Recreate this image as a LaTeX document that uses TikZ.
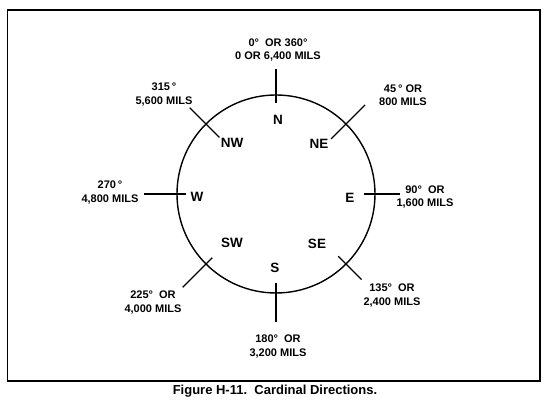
\documentclass[tikz,border=0pt]{standalone}
\usepackage{fontspec}
\setmainfont{Liberation Sans}
\usetikzlibrary{calc,positioning}

\begin{document}
\begin{tikzpicture}[
        x=1pt, y=1pt,
        bearing/.style={
            font=\bfseries\fontsize{11}{13.5}\selectfont,
            align=center,
            inner sep=0pt
        },
        point/.style={
            font=\bfseries\fontsize{13.5}{15}\selectfont,
            inner sep=0pt
        },
        tickline/.style={line width=1.2pt}
    ]
        \useasboundingbox (0,0) rectangle (550,403);
        \draw[line width=1.1pt] (7.5,22) rectangle (540,393);

        % compass circle
        \node[circle, draw, line width=1.4pt, minimum size=198pt, inner sep=0pt] (rose) at (276,209) {};

        % tick marks across the circle
        \foreach \ang/\rin/\rout in {90/91/125, 270/89/128, 180/90/132, 0/88/124,
                                     135/80/122, 45/78/126, 225/90/132, 315/88/121}
            \draw[tickline] ($(rose.center)+(\ang:\rin)$) -- ($(rose.center)+(\ang:\rout)$);

        % direction letters
        \node[point] (n)  at (278,283) {N};
        \node[point] (nw) at (232,260) {NW};
        \node[point] (ne) at (319,259) {NE};
        \node[point] (w)  at (197,206) {W};
        \node[point] (e)  at (350,205) {E};
        \node[point] (sw) at (232,160) {SW};
        \node[point] (se) at (317,159) {SE};
        \node[point] (s)  at (275,135) {S};

        % bearings in degrees and mils
        \node[bearing] (b000) at (278,353)   {0°\ \ OR 360°\\0 OR 6,400 MILS};
        \node[bearing] (b315) at (164,308.5) {315\,°\\5,600 MILS};
        \node[bearing] (b045) at (403,308)   {45\,° OR\\800 MILS};
        \node[bearing] (b270) at (110,210.5) {270\,°\\4,800 MILS};
        \node[bearing] (b090) at (425,206)   {90°\ \ OR\\1,600 MILS};
        \node[bearing] (b225) at (153,100.5) {225°\ \ OR\\4,000 MILS};
        \node[bearing] (b135) at (392,107.5) {135°\ \ OR\\2,400 MILS};
        \node[bearing] (b180) at (278,56.5)  {180°\ \ OR\\3,200 MILS};

        \node[font=\bfseries\fontsize{13}{15}\selectfont, inner sep=0pt] (caption) at (275,12) {Figure H-11.\ \ Cardinal Directions.};
    \end{tikzpicture}
\end{document}
